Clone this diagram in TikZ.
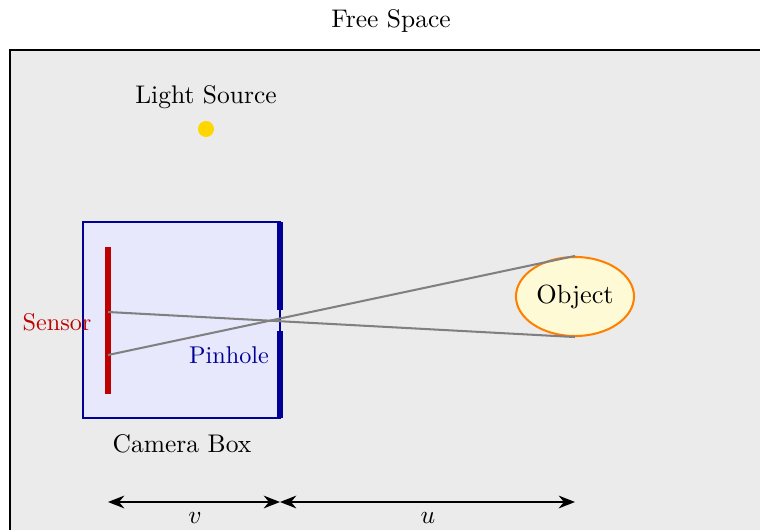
\documentclass[tikz,border=0pt]{standalone}
\usetikzlibrary{arrows.meta,shapes.geometric}
\definecolor{bggray}{RGB}{235,235,235}
\definecolor{camblue}{RGB}{0,0,150}
\definecolor{camfill}{RGB}{232,232,252}
\definecolor{sensred}{RGB}{190,0,0}
\definecolor{lightgold}{RGB}{255,215,0}
\definecolor{objfill}{RGB}{255,250,214}
\definecolor{objorange}{RGB}{255,128,0}
\definecolor{raygray}{RGB}{128,128,128}
\tikzset{
  lbl/.style={inner sep=0pt, font=\fontsize{10}{12}\selectfont},
  smalllbl/.style={inner sep=0pt, font=\fontsize{9.5}{11}\selectfont},
  ray/.style={draw=raygray, line width=0.8pt},
  dimarrow/.style={draw=black, line width=0.8pt, {Stealth[length=6.4pt,width=5pt]}-{Stealth[length=6.4pt,width=5pt]}},
  wall/.style={draw=camblue, line width=2.2pt},
}
\begin{document}
\begin{tikzpicture}[x=0.3922pt, y=-0.3922pt]
\useasboundingbox (0,0) rectangle (760,530);
\clip (0,0) rectangle (760,530);
% free space
\node[lbl] (fs) at (391,21) {Free Space};
\draw[fill=bggray, draw=black, line width=0.8pt] (10,50) rectangle (820,600);
% light source
\node[lbl] (lslabel) at (206,97) {Light Source};
\node[circle, fill=lightgold, inner sep=0pt, minimum size=6.3pt] (ls) at (206,129) {};
% camera box
\node[draw=camblue, fill=camfill, line width=0.8pt, minimum width=77.3pt, minimum height=76.9pt, inner sep=0pt] (cam) at (181.5,320) {};
\coordinate (wtop) at (280,222);
\coordinate (wtopend) at (280,310);
\coordinate (wbot) at (280,331);
\coordinate (wbotend) at (280,418);
\draw[wall] (wtop) -- (wtopend);
\draw[wall] (wbot) -- (wbotend);
\coordinate (sentop) at (108,247);
\coordinate (senbot) at (108,394);
\draw[draw=sensred, line width=2pt] (sentop) -- (senbot);
\node[smalllbl, text=sensred] (senlabel) at (57,322) {Sensor};
\node[smalllbl, text=camblue] (pinlabel) at (229,355) {Pinhole};
\node[lbl] (camlabel) at (182,444) {Camera Box};
% object
\node[ellipse, draw=objorange, fill=objfill, line width=0.8pt, minimum width=46.3pt, minimum height=31pt, inner sep=0pt, font=\fontsize{10.3}{12}\selectfont] (obj) at (575,296.5) {Object};
% rays
\coordinate (s1) at (108,312);
\coordinate (s2) at (108,355);
\draw[ray] (obj.south) -- (s1);
\draw[ray] (obj.north) -- (s2);
% dimensions
\coordinate (dv1) at (108,502);
\coordinate (dv2) at (280,502);
\coordinate (du2) at (575,502);
\draw[dimarrow] (dv1) -- (dv2);
\draw[dimarrow] (dv2) -- (du2);
\node[lbl] (vlabel) at (195,518) {$v$};
\node[lbl] (ulabel) at (428,518) {$u$};
\end{tikzpicture}
\end{document}
